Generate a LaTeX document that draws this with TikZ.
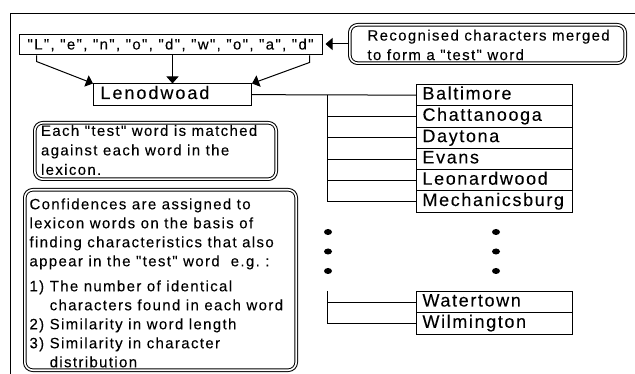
\documentclass[tikz,border=0pt]{standalone}
\usepackage{fontspec}
\setmainfont{Liberation Sans}
\newfontfamily\cfont{Liberation Sans}[LetterSpace=9,FakeBold=0.1]
\newfontfamily\wfont{Liberation Sans}[LetterSpace=9,FakeBold=0.1]
\newfontfamily\lfont{Liberation Sans}[LetterSpace=11,FakeBold=0.1]
\usetikzlibrary{arrows.meta,calc}
\newcommand\wb[1]{\makebox[144pt][l]{#1}}
\begin{document}
\begin{tikzpicture}[x=1pt,y=-1pt,line width=1pt,
  ctext/.style={font=\cfont\fontsize{15}{19.5}\selectfont},
  wordbox/.style={draw, anchor=north west, inner xsep=6pt, inner ysep=2.3pt,
    text height=12.7pt, text depth=4pt, font=\wfont\fontsize{18}{20}\selectfont},
  callout/.style={draw, double=white, double distance=1.6pt, rounded corners=8pt, inner sep=0pt},
  calltext/.style={ctext, anchor=north west, inner sep=0pt, align=left},
  arr/.style={-{Triangle[length=7pt,width=12pt]}}]
\useasboundingbox (0,0) rectangle (635,374);
% frame
\draw (10,374) -- (10,14) -- (635,14);
% character list
\node[draw, minimum width=303pt, minimum height=20pt, inner sep=0pt,
  font=\cfont\fontsize{15}{17}\selectfont] (cb) at (170.5,45)
  {"L", "e", "n", "o", "d", "w", "o", "a", "d"};
% test word
\node[wordbox, inner xsep=7pt, font=\lfont\fontsize{18}{20}\selectfont] (len) at (93,83.5) {\wb{Lenodwoad}};
% lexicon
\node[wordbox] (w1) at (416,84) {\wb{Baltimore}};
\node[wordbox] (w2) at (416,105.3) {\wb{Chattanooga}};
\node[wordbox] (w3) at (416,126.6) {\wb{Daytona}};
\node[wordbox] (w4) at (416,147.9) {\wb{Evans}};
\node[wordbox] (w5) at (416,169.2) {\wb{Leonardwood}};
\node[wordbox] (w6) at (416,190.5) {\wb{Mechanicsburg}};
\node[wordbox] (w7) at (416,291) {\wb{Watertown}};
\node[wordbox] (w8) at (416,312.3) {\wb{Wilmington}};
% connectors to lexicon
\draw (len.east) -- (w1.west);
\coordinate (ta) at (327,94.65);
\draw (ta) |- (w6.west);
\foreach \n in {w2,w3,w4,w5} \draw (ta |- \n.west) -- (\n.west);
\coordinate (tb) at (327,291);
\draw (tb) |- (w8.west);
\draw (tb |- w7.west) -- (w7.west);
% dots
\foreach \y in {232,251.5,271} {
  \fill (328,\y) ellipse (4pt and 3pt);
  \fill (496,\y) ellipse (4pt and 3pt);
}
% arrows from characters to test word
\draw[arr] ([xshift=18pt]cb.south west) -- ++(0,6) -- (len.north west);
\draw[arr] (len.north |- cb.south) -- (len.north);
\draw[arr] ([xshift=-13pt]cb.south east) -- ++(0,7) -- (len.north east);
% callouts
\node[callout, minimum width=275.4pt, minimum height=38.4pt] (rc) at (487.5,44) {};
\node[calltext] (rct) at (367,29.2) {Recognised characters merged\\to form a "test" word};
\draw[arr, shorten >=3pt] (rc.west) -- (rc.west -| cb.east);
\node[callout, minimum width=241.4pt, minimum height=56.4pt] (c1) at (155.5,151) {};
\node[calltext] (c1t) at (40.5,124.5) {Each "test" word is matched\\against each word in the\\lexicon.};
\node[callout, minimum width=271.4pt, minimum height=180.4pt] (c2) at (160.5,280) {};
\node[calltext, font=\cfont\fontsize{15}{19}\selectfont] (c2t) at (29,197.9) {Confidences are assigned to\\
lexicon words on the basis of\\
finding characteristics that also\\
appear in the "test" word~ e.g.\ :\\[6pt]
1) The number of identical\\
\phantom{1) }characters found in each word\\
2) Similarity in word length\\
3) Similarity in character\\
\phantom{1) }distribution};
\end{tikzpicture}
\end{document}
